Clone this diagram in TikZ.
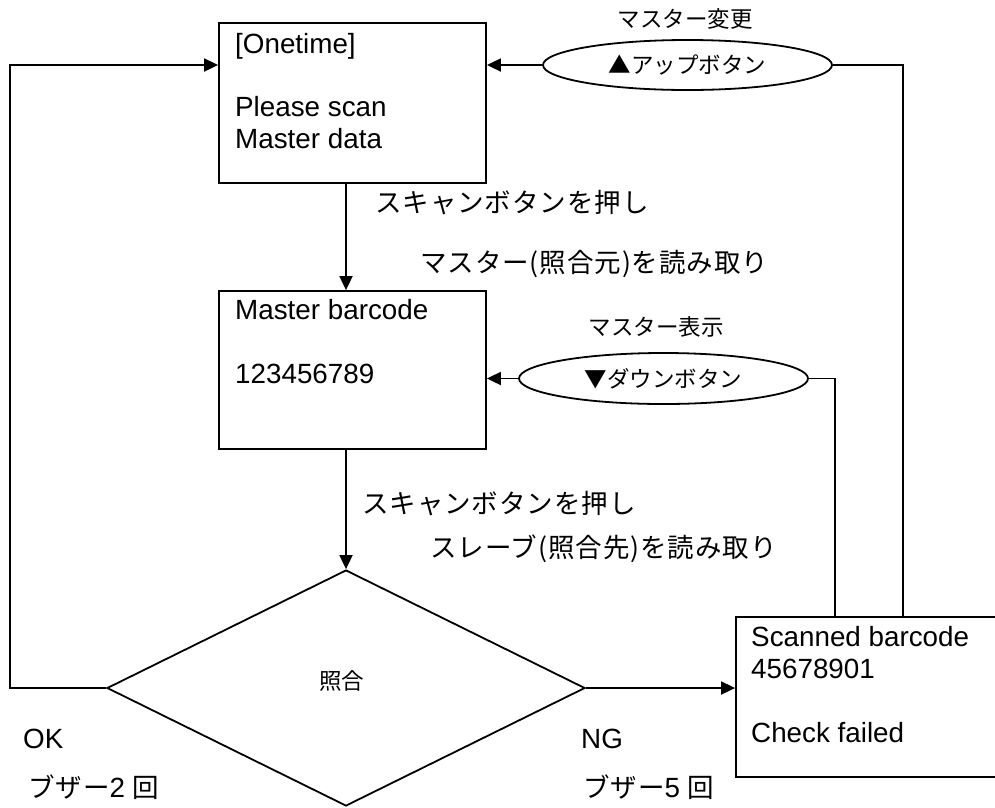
\documentclass[tikz,border=0pt]{standalone}
\usepackage{fontspec}
\setmainfont{Liberation Sans}
\newfontfamily\jp{Noto Sans CJK JP}
\newfontfamily\jpw[LetterSpace=3.5]{Noto Sans CJK JP}
\usetikzlibrary{shapes.geometric,arrows.meta,calc}
\begin{document}
\begin{tikzpicture}[x=1pt,y=-1pt,
  ln/.style={line width=1.8pt},
  arr/.style={ln,-{Triangle[length=14pt,width=13pt]}},
  box/.style={draw,ln,rectangle,inner sep=0pt,minimum width=267pt,minimum height=160pt},
  oval/.style={draw,ln,ellipse,inner sep=0pt,minimum width=289pt,minimum height=50pt,font=\jp\fontsize{22.5}{26}\selectfont},
  en/.style={anchor=base west,inner sep=0pt,font=\fontsize{27.8}{32}\selectfont},
  ja/.style={anchor=west,inner sep=0pt,font=\jpw\fontsize{26.5}{30}\selectfont},
  sm/.style={anchor=center,inner sep=0pt,font=\jp\fontsize{22.5}{26}\selectfont}]
\useasboundingbox (0,0) rectangle (995,807);
\clip (0,0) rectangle (995,807);

% shapes
\node[box] (b1) at (352.5,103) {};
\node[box,minimum height=158pt] (b2) at (352.5,370) {};
\node[box,minimum width=280pt] (b3) at (876,697) {};
\node[oval] (e1) at (687.5,65) {▲アップボタン};
\node[oval,minimum height=51pt] (e2) at (663.5,378.5) {▼ダウンボタン};
\node[draw,ln,diamond,minimum width=478pt,minimum height=236pt,inner sep=0pt] (dia) at (346,688) {};

% texts in boxes
\node[en] (t1a) at (235,53) {[Onetime]};
\node[en] (t1b) at (235,116) {Please scan};
\node[en] (t1c) at (235,148) {Master data};
\node[en] (t2a) at (235,319) {Master barcode};
\node[en] (t2b) at (235,383) {123456789};
\node[en] (t3a) at (751,646) {Scanned barcode};
\node[en] (t3b) at (751,678) {45678901};
\node[en] (t3c) at (751,742) {Check failed};
\node[sm] (s3) at (341.5,681) {照合};

% labels
\node[en] (ok) at (23,748) {OK};
\node[en] (ng) at (581,748) {NG};
\node[ja] (bz2) at (28,787) {ブザー{\rmfamily\fontsize{27.8}{30}\selectfont 2 }回};
\node[ja] (bz5) at (583,787) {ブザー{\rmfamily\fontsize{27.8}{30}\selectfont 5 }回};
\node[ja] (l1) at (375,203) {スキャンボタンを押し};
\node[ja] (l2) at (420,264) {マスター(照合元)を読み取り};
\node[ja] (l3) at (362,504) {スキャンボタンを押し};
\node[ja] (l4) at (430,549) {スレーブ(照合先)を読み取り};
\node[sm] (s1) at (685,19) {マスター変更};
\node[sm] (s2) at (656,327) {マスター表示};

% connectors
\coordinate (lc) at (10,688);
\draw[arr] (dia.west) -- (lc) |- (b1.west |- e1.west);
\draw[arr] (e1.west) -- (e1.west -| b1.east);
\draw[ln] (e1.east) -| ($(b3.north west)+(168,0)$);
\draw[arr] (e2.west) -- (e2.west -| b2.east);
\draw[ln] (e2.east) -| ($(b3.north west)+(100,0)$);
\draw[arr] (b1.south -| dia.north) -- (b2.north -| dia.north);
\draw[arr] (b2.south -| dia.north) -- (dia.north);
\draw[arr] (dia.east) -- (dia.east -| b3.west);
\end{tikzpicture}
\end{document}
